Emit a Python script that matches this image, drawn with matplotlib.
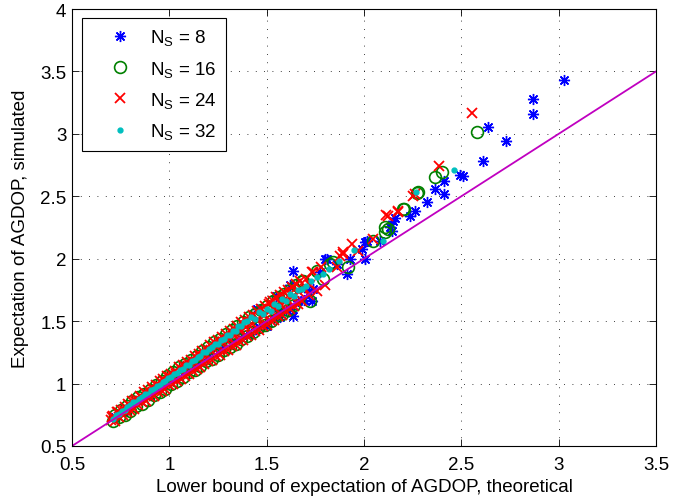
import matplotlib
matplotlib.use("Agg")
import matplotlib.pyplot as plt
from matplotlib.ticker import FixedLocator, FuncFormatter

plt.rcParams["font.family"] = ["Liberation Sans", "DejaVu Sans"]
plt.rcParams["mathtext.fontset"] = "custom"
plt.rcParams["mathtext.rm"] = "Liberation Sans"

# ---- values: x = theoretical lower bound, y = simulated ----
# N_S = 8 (dense band, then the scattered points above x ~ 1.5)
NS8_X = [0.72, 0.78, 0.84, 0.90, 0.96, 1.02, 1.08, 1.14, 1.20, 1.26, 1.32, 1.38,
         1.42, 1.46, 1.50, 1.54, 1.57, 1.60, 1.63, 1.66, 1.69, 1.72, 1.45, 1.55, 1.62,
         1.568, 1.635, 1.635, 1.733, 1.738, 1.774, 1.80, 1.81, 1.861, 1.912,
         1.928, 1.99, 2.005, 2.005, 2.015, 2.082, 2.133, 2.144, 2.149, 2.159,
         2.236, 2.262, 2.323, 2.364, 2.411, 2.411, 2.493, 2.508, 2.611, 2.637,
         2.729, 2.868, 2.868, 3.027]
NS8_Y = [0.73, 0.79, 0.86, 0.91, 0.98, 1.04, 1.10, 1.16, 1.22, 1.28, 1.33, 1.38,
         1.40, 1.45, 1.46, 1.52, 1.53, 1.59, 1.60, 1.66, 1.67, 1.73, 1.60, 1.70, 1.79,
         1.58, 1.54, 1.90, 1.663, 1.76, 1.895, 2.00, 2.00, 1.96, 1.88,
         2.00, 2.08, 2.135, 2.00, 2.145, 2.145, 2.255, 2.225, 2.30, 2.33,
         2.345, 2.38, 2.455, 2.56, 2.52, 2.62, 2.67, 2.66, 2.78, 3.055,
         2.94, 3.16, 3.28, 3.43]

# N_S = 16
NS16_X = [0.72, 0.75, 0.78, 0.81, 0.84, 0.87, 0.90, 0.93, 0.96, 0.99, 1.02, 1.05,
          1.08, 1.11, 1.14, 1.17, 1.20, 1.23, 1.26, 1.29, 1.32, 1.35, 1.38, 1.41,
          1.44, 1.47, 1.50, 1.53, 1.56, 1.59, 1.62, 1.65, 1.68,
          0.71, 0.74, 0.77, 0.80, 0.83, 0.86, 0.89, 0.92, 0.95, 0.98, 1.01, 1.04,
          1.07, 1.10, 1.13, 1.16, 1.19, 1.22, 1.25, 1.28, 1.31, 1.34, 1.37, 1.40,
          1.43, 1.46, 1.49, 1.52, 1.55, 1.58, 1.61, 1.64,
          1.686, 1.722, 1.76, 1.79, 1.825, 1.84, 1.918, 2.046, 2.108, 2.108,
          2.123, 2.20, 2.205, 2.272, 2.277, 2.364, 2.40, 2.58]
NS16_Y = [0.75, 0.79, 0.82, 0.86, 0.89, 0.92, 0.95, 0.99, 1.02, 1.06, 1.09, 1.13,
          1.16, 1.19, 1.22, 1.26, 1.29, 1.33, 1.36, 1.40, 1.43, 1.46, 1.49, 1.53,
          1.56, 1.59, 1.62, 1.66, 1.69, 1.72, 1.75, 1.79, 1.82,
          0.70, 0.73, 0.75, 0.78, 0.82, 0.84, 0.87, 0.91, 0.93, 0.96, 1.00, 1.02,
          1.05, 1.09, 1.11, 1.14, 1.18, 1.20, 1.23, 1.27, 1.29, 1.32, 1.36, 1.38,
          1.41, 1.45, 1.47, 1.50, 1.54, 1.56, 1.59, 1.63,
          1.821, 1.661, 1.90, 1.84, 1.957, 1.973, 1.933, 2.141, 2.213, 2.253,
          2.237, 2.398, 2.398, 2.526, 2.534, 2.654, 2.694, 3.014]

# N_S = 24
NS24_X = [0.70, 0.72, 0.74, 0.76, 0.78, 0.80, 0.82, 0.84, 0.86, 0.88, 0.90, 0.92,
          0.94, 0.96, 0.98, 1.00, 1.02, 1.04, 1.06, 1.08, 1.10, 1.12, 1.14, 1.16,
          1.18, 1.20, 1.22, 1.24, 1.26, 1.28, 1.30, 1.32, 1.34, 1.36, 1.38, 1.40,
          1.42, 1.44, 1.46, 1.48, 1.50, 1.52, 1.54, 1.56, 1.58, 1.60, 1.62, 1.64,
          1.66, 1.68, 1.72, 1.76, 1.80,
          0.705, 0.735, 0.765, 0.795, 0.825, 0.855, 0.885, 0.915, 0.945, 0.975,
          1.005, 1.035, 1.065, 1.095, 1.125, 1.155, 1.185, 1.215, 1.245, 1.275,
          1.305, 1.335, 1.365, 1.395, 1.425, 1.455, 1.485, 1.515, 1.545, 1.575,
          1.605, 1.635, 1.665, 1.695, 1.725,
          0.71, 0.73, 0.75, 0.77, 0.79, 0.81, 0.83, 0.85, 0.87, 0.89, 0.91, 0.93,
          0.95, 0.97, 0.99, 1.01, 1.03, 1.05, 1.07, 1.09, 1.11, 1.13, 1.15, 1.17,
          1.19, 1.21, 1.23, 1.25, 1.27, 1.29, 1.31, 1.33, 1.35, 1.37, 1.39, 1.41,
          1.43, 1.45, 1.47, 1.49, 1.51, 1.53, 1.55, 1.57, 1.59, 1.61, 1.63, 1.65,
          1.67, 1.70, 1.74, 1.78,
          1.517, 1.62, 1.733, 1.861, 1.876, 1.892, 1.892, 1.938, 1.969, 2.046,
          2.113, 2.123, 2.174, 2.174, 2.251, 2.262, 2.385, 2.554]
NS24_Y = [0.71, 0.70, 0.73, 0.75, 0.77, 0.79, 0.80, 0.83, 0.85, 0.86, 0.89, 0.90,
          0.93, 0.94, 0.96, 0.99, 1.00, 1.02, 1.04, 1.06, 1.08, 1.10, 1.12, 1.13,
          1.16, 1.18, 1.19, 1.22, 1.23, 1.26, 1.27, 1.30, 1.31, 1.34, 1.35, 1.38,
          1.39, 1.42, 1.43, 1.46, 1.47, 1.50, 1.51, 1.54, 1.55, 1.58, 1.60, 1.62,
          1.64, 1.66, 1.71, 1.74, 1.79,
          0.73, 0.77, 0.79, 0.83, 0.86, 0.89, 0.92, 0.96, 0.98, 1.02,
          1.05, 1.08, 1.11, 1.14, 1.17, 1.21, 1.23, 1.27, 1.29, 1.33,
          1.36, 1.39, 1.42, 1.45, 1.48, 1.52, 1.54, 1.58, 1.60, 1.64,
          1.67, 1.70, 1.73, 1.76, 1.79,
          0.74, 0.77, 0.79, 0.81, 0.84, 0.86, 0.88, 0.90, 0.93, 0.95, 0.97, 0.99,
          1.02, 1.04, 1.06, 1.08, 1.10, 1.13, 1.15, 1.17, 1.19, 1.22, 1.24, 1.26,
          1.28, 1.31, 1.33, 1.35, 1.37, 1.40, 1.42, 1.44, 1.46, 1.49, 1.51, 1.53,
          1.55, 1.58, 1.60, 1.62, 1.64, 1.66, 1.69, 1.71, 1.73, 1.75, 1.77, 1.80,
          1.82, 1.84, 1.89, 1.93,
          1.653, 1.717, 1.893, 1.933, 2.023, 2.039, 2.055, 2.119, 2.063, 2.159,
          2.35, 2.342, 2.374, 2.382, 2.502, 2.518, 2.742, 3.166]

# N_S = 32
NS32_X = [0.71, 0.725, 0.74, 0.755, 0.77, 0.785, 0.80, 0.815, 0.83, 0.845, 0.86,
          0.875, 0.89, 0.905, 0.92, 0.935, 0.95, 0.965, 0.98, 0.995, 1.01, 1.025,
          1.04, 1.055, 1.07, 1.085, 1.10, 1.115, 1.13, 1.145, 1.16, 1.175, 1.19,
          1.205, 1.22, 1.235, 1.25, 1.265, 1.28, 1.295, 1.31, 1.325, 1.34, 1.355,
          1.37, 1.385, 1.40, 1.42, 1.44, 1.46, 1.48, 1.50, 1.52, 1.54, 1.56, 1.58,
          1.60, 1.62, 1.64, 1.66, 1.68, 1.70, 1.73, 1.76, 1.79, 1.82,
          1.87, 1.95, 2.097, 2.267, 2.462]
NS32_Y = [0.72, 0.745, 0.755, 0.78, 0.79, 0.815, 0.825, 0.85, 0.855, 0.88, 0.89,
          0.915, 0.92, 0.945, 0.955, 0.98, 0.985, 1.01, 1.02, 1.045, 1.05, 1.08,
          1.085, 1.11, 1.12, 1.15, 1.15, 1.18, 1.185, 1.21, 1.22, 1.25, 1.25,
          1.28, 1.29, 1.315, 1.32, 1.35, 1.355, 1.39, 1.39, 1.42, 1.425, 1.46,
          1.46, 1.49, 1.50, 1.53, 1.52, 1.57, 1.56, 1.60, 1.58, 1.64, 1.62, 1.68,
          1.66, 1.72, 1.70, 1.75, 1.76, 1.78, 1.82, 1.85, 1.88, 1.92,
          1.98, 2.07, 2.145, 2.534, 2.71]

# y = x reference line
LINE_X = [0.5, 3.5]
LINE_Y = [0.5, 3.5]

X_TICKS = [0.5, 1, 1.5, 2, 2.5, 3, 3.5]
Y_TICKS = [0.5, 1, 1.5, 2, 2.5, 3, 3.5, 4]
FONTSIZE = 13.5


def main():
    fig = plt.figure(figsize=(6.94, 5.02), dpi=100)
    ax = fig.add_axes([72 / 694, 55 / 502, 584 / 694, 437 / 502])

    ax.plot(NS8_X, NS8_Y, linestyle="none", marker=(8, 2, 0), markersize=8,
            markeredgewidth=1.0, color="#0000ff", label=r"$\mathregular{N_S}$ = 8")
    ax.plot(NS16_X, NS16_Y, linestyle="none", marker="o", markersize=8.5,
            markerfacecolor="none", markeredgewidth=1.2, color="#008000",
            label=r"$\mathregular{N_S}$ = 16")
    ax.plot(NS24_X, NS24_Y, linestyle="none", marker="x", markersize=7,
            markeredgewidth=1.3, color="#ff0000", label=r"$\mathregular{N_S}$ = 24")
    ax.plot(NS32_X, NS32_Y, linestyle="none", marker=".", markersize=7,
            color="#00bfbf", label=r"$\mathregular{N_S}$ = 32")
    ax.plot(LINE_X, LINE_Y, color="#c000c0", linewidth=1.3)

    ax.set_xlim(0.5, 3.5)
    ax.set_ylim(0.5, 4)
    ax.xaxis.set_major_locator(FixedLocator(X_TICKS))
    ax.yaxis.set_major_locator(FixedLocator(Y_TICKS))
    fmt = FuncFormatter(lambda v, _: f"{v:g}")
    ax.xaxis.set_major_formatter(fmt)
    ax.yaxis.set_major_formatter(fmt)
    ax.tick_params(direction="in", top=True, right=True, length=5, width=0.6,
                   labelsize=FONTSIZE)
    ax.tick_params(axis="x", pad=7)
    ax.tick_params(axis="y", pad=4)
    ax.grid(True, linestyle=(0, (1, 9)), color="black", linewidth=0.6)
    for s in ax.spines.values():
        s.set_linewidth(0.8)

    ax.set_xlabel("Lower bound of expectation of AGDOP, theoretical", fontsize=FONTSIZE, labelpad=4)
    ax.set_ylabel("Expectation of AGDOP, simulated", fontsize=FONTSIZE, labelpad=8)

    leg = ax.legend(loc="upper left", bbox_to_anchor=(10 / 584, 1 - 9 / 437), borderaxespad=0,
                    fontsize=FONTSIZE, fancybox=False, framealpha=1, edgecolor="black",
                    handlelength=3.0, handletextpad=0.15, labelspacing=0.6,
                    borderpad=0.5)
    leg.get_frame().set_linewidth(0.8)

    fig.savefig("out.png", dpi=100)
    plt.close(fig)


if __name__ == "__main__":
    main()
